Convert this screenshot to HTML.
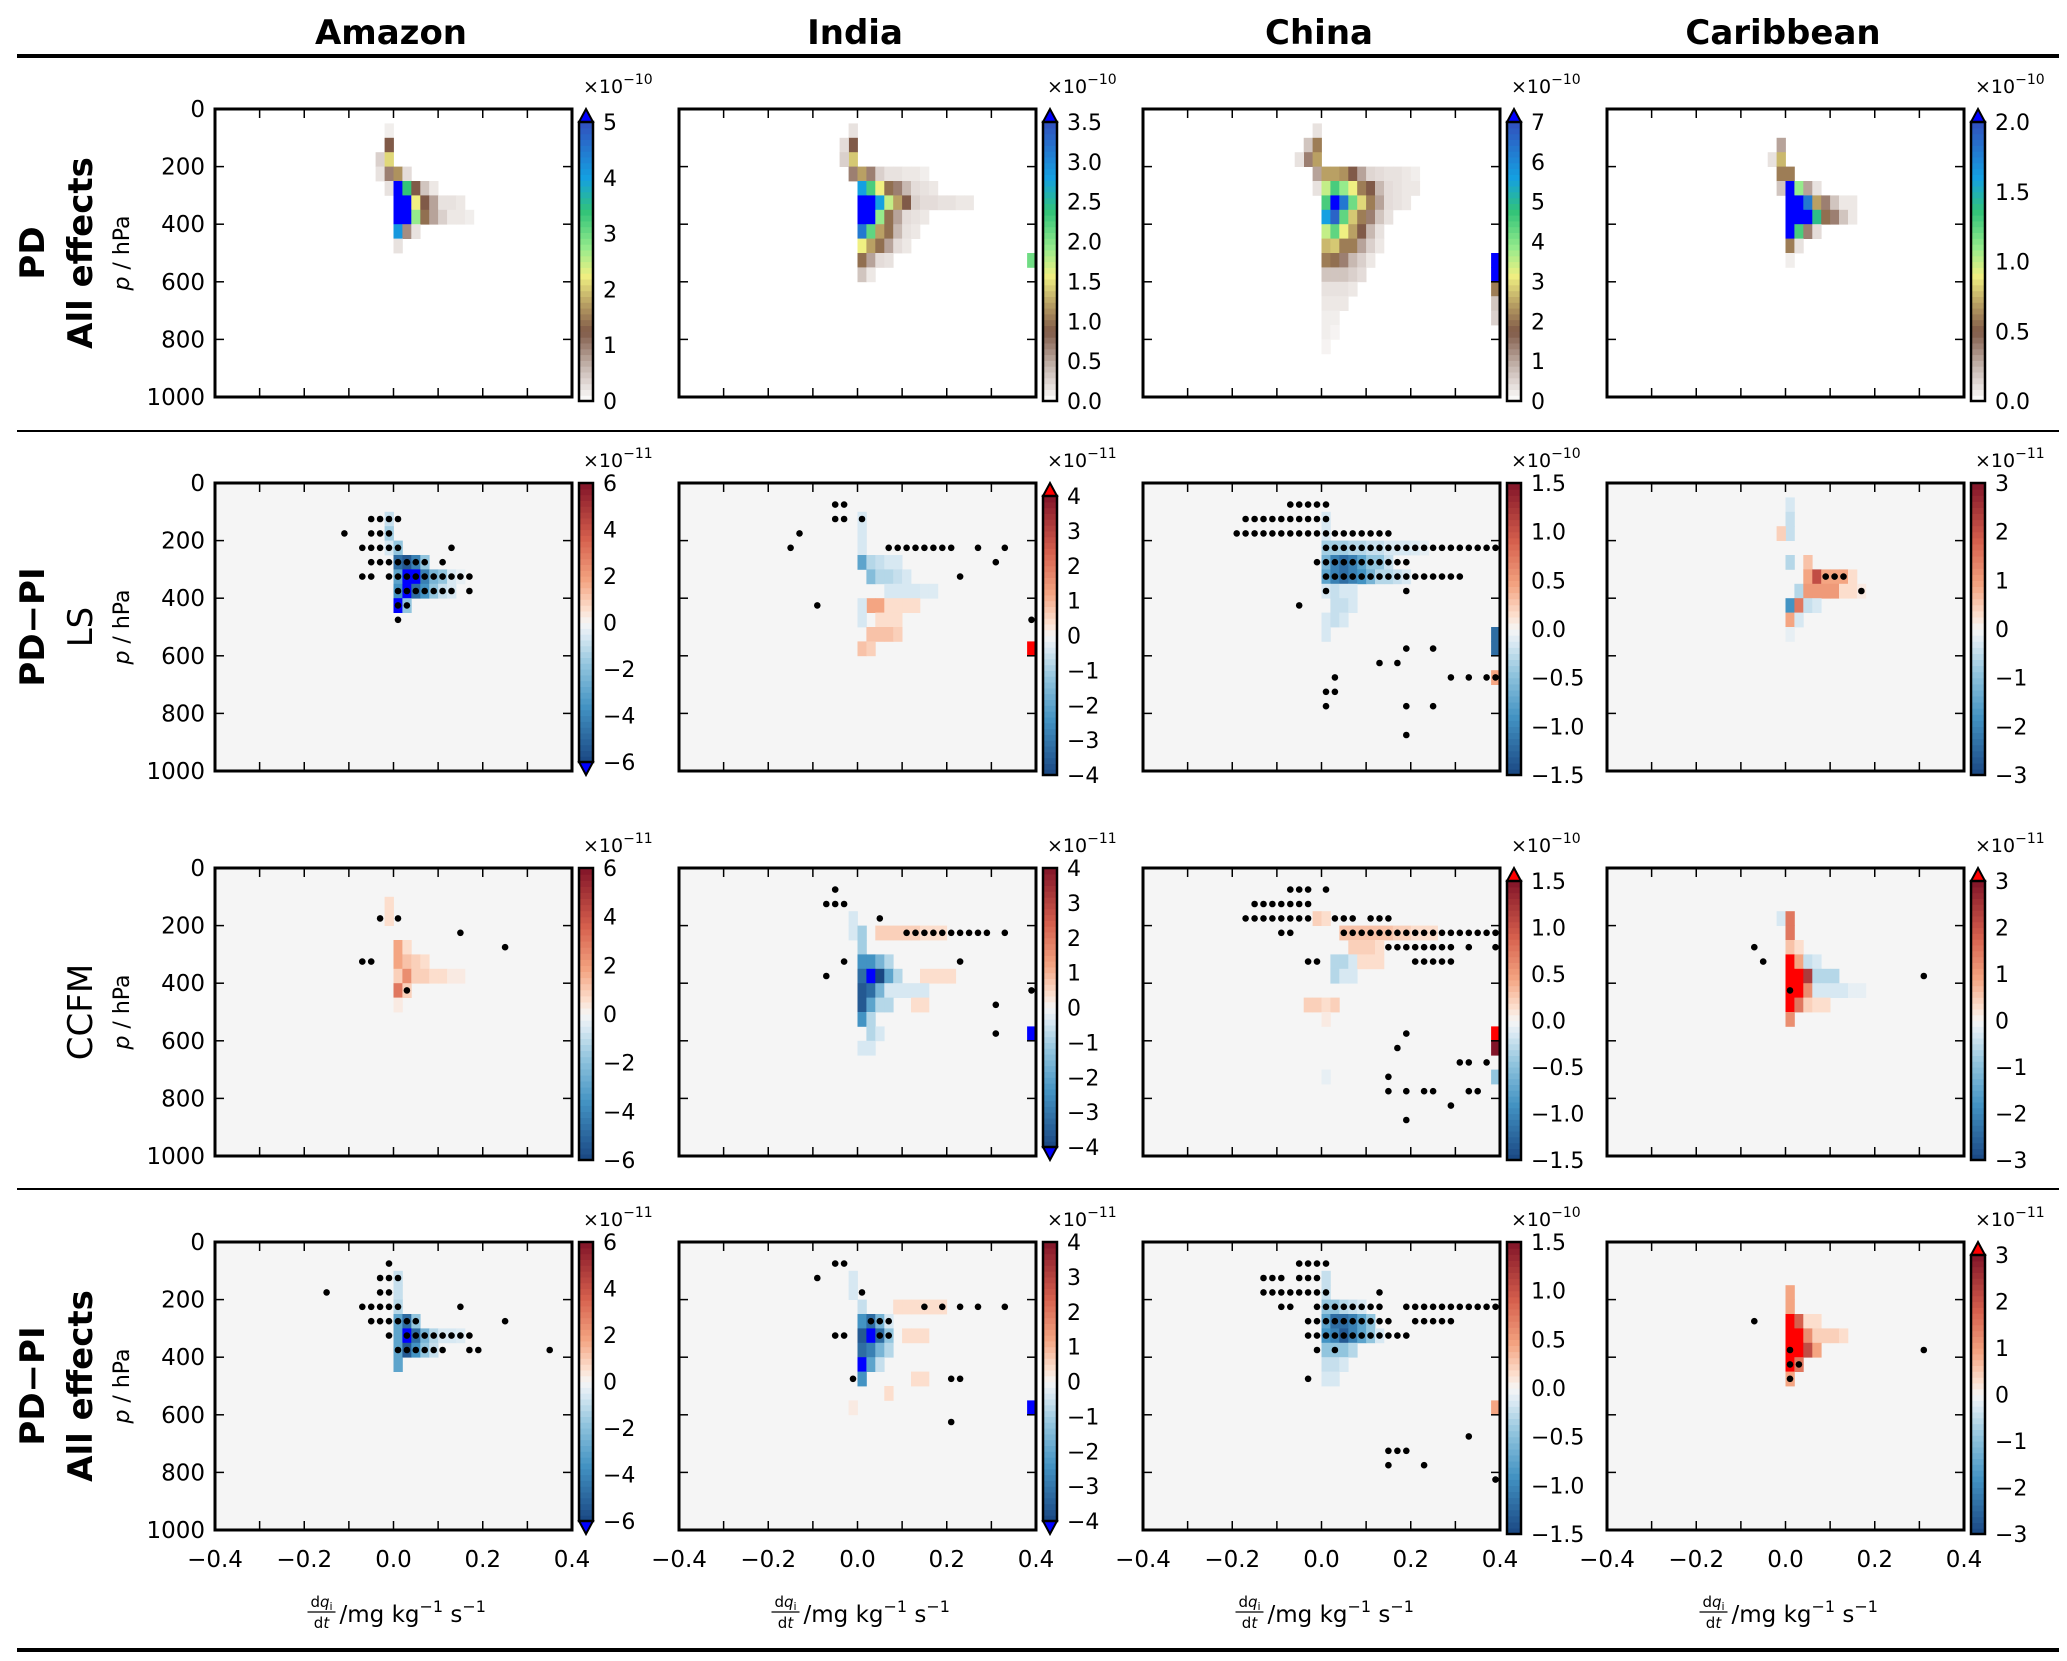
<!DOCTYPE html>
<html><head><meta charset="utf-8">
<style>
html,body{margin:0;padding:0;background:#fff;}
svg{display:block;font-family:"DejaVu Sans","Liberation Sans",sans-serif;}
</style></head>
<body>
<svg id="fig" width="2067" height="1661" viewBox="0 0 2067 1661" xmlns="http://www.w3.org/2000/svg">
<rect x="0" y="0" width="2067" height="1661" fill="#fff"/>
<g id="frame">
<text x="391" y="44" font-size="34" font-weight="bold" text-anchor="middle">Amazon</text>
<text x="855" y="44" font-size="34" font-weight="bold" text-anchor="middle">India</text>
<text x="1319" y="44" font-size="34" font-weight="bold" text-anchor="middle">China</text>
<text x="1783" y="44" font-size="34" font-weight="bold" text-anchor="middle">Caribbean</text>
<rect x="17" y="54" width="2042" height="4" fill="#000"/>
<rect x="17" y="430" width="2042" height="2" fill="#000"/>
<rect x="17" y="1188" width="2042" height="2" fill="#000"/>
<rect x="17" y="1648" width="2042" height="4" fill="#000"/>
</g>
</svg>
<script>
// ---------- layout ----------
const colLeft = [215, 679, 1143, 1607];
const rowTop = [109, 483, 868, 1242];
const PW = 357, PH = 288;
const xTicks = [-0.4, -0.3, -0.2, -0.1, 0.0, 0.1, 0.2, 0.3, 0.4];
const xTickLabels = ["\u22120.4", "\u22120.2", "0.0", "0.2", "0.4"];
const xTickLabelValues = [-0.4, -0.2, 0.0, 0.2, 0.4];
const yTicks = [0, 200, 400, 600, 800, 1000];
const cellW = 0.02, cellH = 50;

// ---------- colorbar definitions ----------
const cbLabelsPD_Amazon = ["0","1","2","3","4","5"];
const cbLabelsPD_India = ["0.0","0.5","1.0","1.5","2.0","2.5","3.0","3.5"];
const cbLabelsPD_China = ["0","1","2","3","4","5","6","7"];
const cbLabelsPD_Carib = ["0.0","0.5","1.0","1.5","2.0"];
const cbLabelsD_Amazon = ["\u22126","\u22124","\u22122","0","2","4","6"];
const cbLabelsD_India = ["\u22124","\u22123","\u22122","\u22121","0","1","2","3","4"];
const cbLabelsD_China = ["\u22121.5","\u22121.0","\u22120.5","0.0","0.5","1.0","1.5"];
const cbLabelsD_Carib = ["\u22123","\u22122","\u22121","0","1","2","3"];

// ---------- data: cells [x, p, value as fraction of colorbar max]; dots [p, [x...]] ----------
const amazonPdCells = [[-0.02,50,0.03],[-0.02,100,0.25],[-0.04,150,0.08],[-0.02,150,0.42],[-0.04,200,0.05],[-0.02,200,0.2],[0,200,0.33],[0.02,200,0.06],
[-0.02,250,0.05],[0,250,1.2],[0.02,250,0.68],[0.04,250,0.25],[0.06,250,0.1],[0.08,250,0.04],
[0,300,1.2],[0.02,300,1.2],[0.04,300,0.45],[0.06,300,0.25],[0.08,300,0.15],[0.1,300,0.05],[0.12,300,0.05],[0.14,300,0.04],
[0,350,1.2],[0.02,350,1.2],[0.04,350,0.55],[0.06,350,0.28],[0.08,350,0.15],[0.1,350,0.08],[0.12,350,0.04],[0.14,350,0.04],[0.16,350,0.03],
[0,400,0.82],[0.02,400,0.18],[0.04,400,0.05],[0,450,0.05]];
const indiaPdCells = [[-0.02,50,0.05],[-0.02,100,0.25],[-0.04,100,0.06],[-0.02,150,0.4],[-0.04,150,0.08],[-0.02,200,0.2],[0,200,0.35],[0.02,200,0.2],[0.04,200,0.08],[0.06,200,0.05],[0.08,200,0.05],[0.1,200,0.04],[0.12,200,0.04],[0.14,200,0.03],
[0,250,0.8],[0.02,250,0.65],[0.04,250,0.45],[0.06,250,0.28],[0.08,250,0.2],[0.1,250,0.12],[0.12,250,0.06],[0.14,250,0.05],[0.16,250,0.04],
[0,300,1.2],[0.02,300,1.2],[0.04,300,0.8],[0.06,300,0.5],[0.08,300,0.35],[0.1,300,0.25],[0.12,300,0.08],[0.14,300,0.06],[0.16,300,0.06],[0.18,300,0.05],[0.2,300,0.05],[0.22,300,0.04],[0.24,300,0.04],
[0,350,1.2],[0.02,350,1.2],[0.04,350,0.55],[0.06,350,0.28],[0.08,350,0.15],[0.1,350,0.06],[0.12,350,0.05],[0.14,350,0.04],
[0,400,0.9],[0.02,400,0.62],[0.04,400,0.35],[0.06,400,0.28],[0.08,400,0.12],[0.1,400,0.05],[0.12,400,0.04],
[0,450,0.45],[0.02,450,0.35],[0.04,450,0.28],[0.06,450,0.15],[0.08,450,0.06],[0.1,450,0.04],
[0,500,0.28],[0.02,500,0.15],[0.04,500,0.06],[0.06,500,0.05],[0,550,0.1],[0.02,550,0.04],[0.38,500,0.6]];
const chinaPdCells = [[-0.02,50,0.05],[-0.04,100,0.1],[-0.02,100,0.3],[-0.04,150,0.2],[-0.02,150,0.35],[-0.06,150,0.05],
[-0.02,200,0.15],[0,200,0.35],[0.02,200,0.35],[0.04,200,0.33],[0.06,200,0.25],[0.08,200,0.15],[0.1,200,0.07],[0.12,200,0.06],[0.14,200,0.05],[0.16,200,0.05],[0.18,200,0.04],[0.2,200,0.03],
[-0.02,250,0.05],[0,250,0.5],[0.02,250,0.65],[0.04,250,0.55],[0.06,250,0.45],[0.08,250,0.3],[0.1,250,0.25],[0.12,250,0.12],[0.14,250,0.06],[0.16,250,0.05],[0.18,250,0.04],[0.2,250,0.04],
[0,300,0.65],[0.02,300,1.2],[0.04,300,0.9],[0.06,300,0.6],[0.08,300,0.42],[0.1,300,0.3],[0.12,300,0.15],[0.14,300,0.06],[0.16,300,0.05],[0.18,300,0.04],
[0,350,0.8],[0.02,350,0.95],[0.04,350,0.62],[0.06,350,0.4],[0.08,350,0.3],[0.1,350,0.2],[0.12,350,0.1],[0.14,350,0.05],
[0,400,0.5],[0.02,400,0.62],[0.04,400,0.45],[0.06,400,0.35],[0.08,400,0.25],[0.1,400,0.12],[0.12,400,0.05],
[0,450,0.38],[0.02,450,0.4],[0.04,450,0.3],[0.06,450,0.3],[0.08,450,0.15],[0.1,450,0.08],[0.12,450,0.04],
[0,500,0.3],[0.02,500,0.28],[0.04,500,0.2],[0.06,500,0.12],[0.08,500,0.08],[0.1,500,0.04],
[0,550,0.1],[0.02,550,0.1],[0.04,550,0.1],[0.06,550,0.08],[0.08,550,0.06],[0,600,0.05],[0.02,600,0.05],[0.04,600,0.05],[0.06,600,0.04],
[0,650,0.04],[0.02,650,0.04],[0.04,650,0.04],[0,700,0.03],[0.02,700,0.03],[0,750,0.03],[0.02,750,0.02],[0,800,0.02],
[0.38,500,1.2],[0.38,550,1.2],[0.38,600,0.3],[0.38,650,0.1],[0.38,700,0.08]];
const caribPdCells = [[-0.02,100,0.15],[-0.04,150,0.05],[-0.02,150,0.38],[-0.02,200,0.3],[0,200,0.3],
[-0.02,250,0.1],[0,250,1.2],[0.02,250,0.55],[0.04,250,0.15],[0.06,250,0.05],
[0,300,1.2],[0.02,300,1.2],[0.04,300,0.9],[0.06,300,0.35],[0.08,300,0.2],[0.1,300,0.1],[0.12,300,0.04],[0.14,300,0.04],
[0,350,1.2],[0.02,350,1.2],[0.04,350,1.2],[0.06,350,0.7],[0.08,350,0.28],[0.1,350,0.2],[0.12,350,0.1],[0.14,350,0.04],
[0,400,1.2],[0.02,400,0.65],[0.04,400,0.2],[0.06,400,0.06],[0,450,0.3],[0.02,450,0.05],[0,500,0.03]];

const amazonLsCells = [[-0.02,100,-0.15],[-0.02,150,-0.25],[-0.02,200,-0.1],[0,200,-0.3],[0,250,-0.8],[0.02,250,-0.9],[0.04,250,-0.7],[0.06,250,-0.3],
[0,300,-0.5],[0.02,300,-1.3],[0.04,300,-1.3],[0.06,300,-0.7],[0.08,300,-0.4],[0.1,300,-0.3],[0.12,300,-0.1],[0.14,300,-0.05],
[0,350,-0.6],[0.02,350,-1.3],[0.04,350,-0.8],[0.06,350,-0.6],[0.08,350,-0.3],[0.1,350,-0.15],[0.12,350,-0.1],[0,400,-1.3],[0.02,400,-0.3]];
const amazonLsDots = [[125,[-0.05,-0.03,-0.01,0.01]],[175,[-0.11,-0.05,-0.03,-0.01]],[225,[-0.07,-0.05,-0.03,-0.01,0.01,0.13]],
[275,[-0.05,-0.03,-0.01,0.01,0.03,0.05,0.07,0.11]],[325,[-0.07,-0.05,-0.01,0.01,0.03,0.05,0.07,0.09,0.11,0.13,0.15,0.17]],
[375,[0.01,0.03,0.05,0.07,0.09,0.11,0.13,0.17]],[425,[0.01,0.03]],[475,[0.01]]];
const indiaLsCells = [[0,100,-0.1],[0,150,-0.1],[0,200,-0.1],[0,250,-0.5],[0.02,250,-0.2],[0.04,250,-0.15],[0.06,250,-0.1],[0.08,250,-0.1],
[0.02,300,-0.35],[0.04,300,-0.2],[0.06,300,-0.2],[0.08,300,-0.15],[0.1,300,-0.1],[0.06,350,-0.1],[0.08,350,-0.1],[0.1,350,-0.1],[0.12,350,-0.1],[0.14,350,-0.08],[0.16,350,-0.08],
[0.02,400,0.3],[0.04,400,0.3],[0.06,400,0.1],[0.08,400,0.1],[0.1,400,0.1],[0.12,400,0.1],[0,400,-0.1],[0,450,-0.1],
[0.04,450,0.1],[0.06,450,0.1],[0.08,450,0.1],[0.02,500,0.2],[0.04,500,0.2],[0.06,500,0.2],[0.08,500,0.15],[0,550,0.2],[0.02,550,0.15],[0.38,550,1.3]];
const indiaLsDots = [[75,[-0.05,-0.03]],[125,[-0.05,-0.03,0.01]],[175,[-0.13]],[225,[-0.15,0.07,0.09,0.11,0.13,0.15,0.17,0.19,0.21,0.27,0.33]],[275,[0.31]],[325,[0.23]],[425,[-0.09]],[475,[0.39]]];
const chinaLsCells = [[0,100,-0.1],[0,150,-0.1],[0,200,-0.25],[0.02,200,-0.25],[0.04,200,-0.25],[0.06,200,-0.2],[0.08,200,-0.2],[0.1,200,-0.15],[0.12,200,-0.15],[0.14,200,-0.1],[0.16,200,-0.1],[0.18,200,-0.1],[0.2,200,-0.08],[0.22,200,-0.05],
[0,250,-0.4],[0.02,250,-0.7],[0.04,250,-0.8],[0.06,250,-0.7],[0.08,250,-0.5],[0.1,250,-0.3],[0.12,250,-0.3],[0.14,250,-0.15],
[0,300,-0.5],[0.02,300,-0.7],[0.04,300,-0.8],[0.06,300,-0.7],[0.08,300,-0.6],[0.1,300,-0.4],[0.12,300,-0.2],[0.14,300,-0.2],[0.16,300,-0.15],[0.18,300,-0.1],
[0,350,-0.1],[0.02,350,-0.15],[0.04,350,-0.1],[0.06,350,-0.1],[0.02,400,-0.15],[0.04,400,-0.15],[0.06,400,-0.1],[0,450,-0.1],[0.02,450,-0.15],[0.04,450,-0.1],[0,500,-0.1],
[0.38,500,-0.8],[0.38,550,-0.8],[0.38,650,0.3]];
const chinaLsDots = [[75,[-0.07,-0.05,-0.03,-0.01,0.01]],[125,[-0.17,-0.15,-0.13,-0.11,-0.09,-0.07,-0.05,-0.03,-0.01,0.01]],
[175,[-0.19,-0.17,-0.15,-0.13,-0.11,-0.09,-0.07,-0.05,-0.03,-0.01,0.01,0.03,0.05,0.07,0.09,0.11,0.13,0.15]],
[225,[0.01,0.03,0.05,0.07,0.09,0.11,0.13,0.15,0.17,0.19,0.21,0.23,0.25,0.27,0.29,0.31,0.33,0.35,0.37,0.39]],
[275,[-0.01,0.01,0.03,0.05,0.07,0.09,0.11,0.13,0.15,0.17,0.19]],
[325,[0.01,0.03,0.05,0.07,0.09,0.11,0.13,0.15,0.17,0.19,0.21,0.23,0.25,0.27,0.29,0.31]],
[375,[0.01,0.19]],[425,[-0.05]],[575,[0.19,0.25]],[625,[0.13,0.17]],[675,[0.03,0.29,0.33,0.37,0.39]],[725,[0.01,0.03]],[775,[0.01,0.19,0.25]],[875,[0.19]]];
const caribLsCells = [[0,50,-0.1],[0,100,-0.15],[0,150,-0.15],[-0.02,150,0.15],[0,250,-0.2],[0.04,250,0.2],[0.04,300,0.3],[0.06,300,0.7],[0.08,300,0.3],[0.1,300,0.3],[0.12,300,0.3],[0.14,300,0.1],
[0.02,350,-0.2],[0.04,350,0.35],[0.06,350,0.35],[0.08,350,0.35],[0.1,350,0.35],[0.12,350,0.1],[0.14,350,0.1],[0.16,350,0.05],
[0,400,-0.6],[0.02,400,0.5],[0.04,400,-0.15],[0.06,400,-0.1],[0,450,0.3],[0.02,450,-0.1],[0,500,-0.05]];
const caribLsDots = [[325,[0.09,0.11,0.13]],[375,[0.17]]];

const amazonCcCells = [[-0.02,100,0.1],[-0.02,150,0.1],[0,250,0.3],[0.02,250,0.1],[0,300,0.3],[0.02,300,0.2],[0.04,300,0.15],[0.06,300,0.1],
[0,350,0.15],[0.02,350,0.4],[0.04,350,0.15],[0.06,350,0.15],[0.08,350,0.1],[0.1,350,0.1],[0.12,350,0.05],[0.14,350,0.05],[0,400,0.5],[0.02,400,0.15],[0,450,0.05]];
const amazonCcDots = [[175,[-0.03,0.01]],[225,[0.15]],[275,[0.25]],[325,[-0.07,-0.05]],[425,[0.03]]];
const indiaCcCells = [[-0.02,150,-0.1],[-0.02,200,-0.1],[0,200,-0.25],[0,250,-0.25],[0.04,200,0.15],[0.06,200,0.15],[0.08,200,0.15],[0.1,200,0.15],[0.12,200,0.15],[0.14,200,0.1],[0.16,200,0.1],[0.18,200,0.1],
[0,300,-0.6],[0.02,300,-0.6],[0.04,300,-0.4],[0.06,300,-0.2],
[0,350,-0.8],[0.02,350,-1.3],[0.04,350,-1.0],[0.06,350,-0.5],[0.08,350,-0.2],[0.14,350,0.1],[0.16,350,0.1],[0.18,350,0.1],[0.2,350,0.1],
[0,400,-0.9],[0.02,400,-0.8],[0.04,400,-0.4],[0.06,400,-0.1],[0.08,400,-0.1],[0.1,400,-0.1],[0.12,400,-0.1],[0.14,400,-0.1],
[0,450,-0.9],[0.02,450,-0.5],[0.04,450,-0.2],[0.06,450,-0.2],[0.12,450,0.1],[0.14,450,0.1],[0,500,-0.6],[0.02,500,-0.2],[0.02,550,-0.2],[0.04,550,-0.1],[0,600,-0.1],[0.02,600,-0.1],[0.38,550,-1.3]];
const indiaCcDots = [[75,[-0.05]],[125,[-0.07,-0.05,-0.03]],[175,[0.05]],[225,[0.11,0.13,0.15,0.17,0.19,0.21,0.23,0.25,0.27,0.29,0.33]],[325,[-0.03,0.23]],[375,[-0.07]],[425,[0.39]],[475,[0.31]],[575,[0.31]]];
const chinaCcCells = [[-0.02,150,0.15],[0,150,0.1],[0.04,200,0.2],[0.06,200,0.2],[0.08,200,0.2],[0.1,200,0.2],[0.12,200,0.2],[0.14,200,0.2],[0.16,200,0.15],[0.18,200,0.15],[0.2,200,0.1],[0.22,200,0.1],[0.24,200,0.1],
[0.06,250,0.15],[0.08,250,0.15],[0.1,250,0.15],[0.12,250,0.1],[0.02,300,-0.2],[0.04,300,-0.2],[0.06,300,-0.1],[0.08,300,0.1],[0.1,300,0.1],[0.12,300,0.1],[0.02,350,-0.2],[0.04,350,-0.1],[0.06,350,-0.1],
[-0.04,450,0.15],[-0.02,450,0.15],[0,450,0.1],[0.02,450,0.15],[0,500,0.05],[0,700,-0.05],[0.38,550,1.3],[0.38,600,1.0],[0.38,700,-0.3]];
const chinaCcDots = [[75,[-0.07,-0.05,-0.03,0.01]],[125,[-0.15,-0.13,-0.11,-0.09,-0.07,-0.05,-0.03]],
[175,[-0.17,-0.15,-0.13,-0.11,-0.09,-0.07,-0.05,-0.03,0.03,0.05,0.07,0.11,0.13,0.15]],
[225,[-0.09,-0.07,0.05,0.07,0.09,0.11,0.13,0.15,0.17,0.19,0.21,0.23,0.25,0.27,0.29,0.31,0.33,0.35,0.37,0.39]],
[275,[0.15,0.17,0.19,0.21,0.23,0.25,0.27,0.29,0.33,0.39]],[325,[-0.03,-0.01,0.21,0.23,0.25,0.27,0.29]],
[575,[0.19]],[625,[0.17]],[675,[0.31,0.33,0.37]],[725,[0.15]],[775,[0.15,0.19,0.23,0.25,0.33,0.35]],[825,[0.29]],[875,[0.19]]];
const caribCcCells = [[-0.02,150,-0.1],[0,150,0.5],[0,200,0.5],[0,250,0.2],[0.02,250,0.1],[0,300,1.3],[0.02,300,0.3],[0.04,300,-0.15],[0.06,300,-0.1],
[0,350,1.3],[0.02,350,1.3],[0.04,350,0.8],[0.06,350,-0.2],[0.08,350,-0.2],[0.1,350,-0.2],
[0,400,1.3],[0.02,400,1.3],[0.04,400,0.4],[0.06,400,-0.1],[0.08,400,-0.1],[0.1,400,-0.1],[0.12,400,-0.1],[0.14,400,-0.05],[0.16,400,-0.05],
[0,450,1.3],[0.02,450,0.5],[0.04,450,0.15],[0.06,450,0.1],[0.08,450,0.1],[0,500,0.4]];
const caribCcDots = [[275,[-0.07]],[325,[-0.05]],[375,[0.31]],[425,[0.01]]];

const amazonAeCells = [[0,100,-0.15],[0,150,-0.15],[0,200,-0.2],[0,250,-0.5],[0.02,250,-0.8],[0.04,250,-0.3],
[0,300,-0.5],[0.02,300,-1.3],[0.04,300,-0.8],[0.06,300,-0.4],[0.08,300,-0.2],[0.1,300,-0.1],[0.12,300,-0.1],[0.14,300,-0.08],
[0,350,-0.5],[0.02,350,-0.9],[0.04,350,-0.6],[0.06,350,-0.3],[0.08,350,-0.15],[0,400,-0.5]];
const amazonAeDots = [[75,[-0.01]],[125,[-0.03,-0.01,0.01]],[175,[-0.15,-0.03,-0.01]],[225,[-0.07,-0.05,-0.03,-0.01,0.01,0.15]],
[275,[-0.05,-0.03,-0.01,0.01,0.03,0.05,0.25]],[325,[-0.01,0.03,0.05,0.07,0.09,0.11,0.13,0.15,0.17]],[375,[0.01,0.03,0.05,0.07,0.09,0.11,0.17,0.19,0.35]]];
const indiaAeCells = [[-0.02,100,-0.1],[-0.02,150,-0.1],[0,200,-0.15],[0.08,200,0.1],[0.1,200,0.1],[0.12,200,0.1],[0.14,200,0.1],[0.16,200,0.1],[0.18,200,0.1],
[0,250,-0.6],[0.02,250,-0.8],[0.04,250,-0.4],[0.06,250,-0.1],[0,300,-0.9],[0.02,300,-1.3],[0.04,300,-0.8],[0.06,300,-0.3],[0.1,300,0.1],[0.12,300,0.1],[0.14,300,0.1],
[0,350,-0.8],[0.02,350,-0.7],[0.04,350,-0.4],[0.06,350,-0.2],[0,400,-1.3],[0.02,400,-0.5],[0.04,400,-0.15],[0,450,-0.6],[0.12,450,0.1],[0.14,450,0.1],[0.06,500,0.1],[-0.02,550,0.05],[0.38,550,-1.3]];
const indiaAeDots = [[75,[-0.05,-0.03]],[125,[-0.09]],[175,[0.01]],[225,[0.15,0.19,0.23,0.27,0.33]],[275,[0.03,0.05,0.07]],[325,[-0.05,-0.03,0.05,0.07]],[475,[-0.01,0.21,0.23]],[625,[0.21]]];
const chinaAeCells = [[0,100,-0.15],[0,150,-0.15],[0,200,-0.3],[0.02,200,-0.3],[0.04,200,-0.2],[0.06,200,-0.15],[0.08,200,-0.1],
[0,250,-0.5],[0.02,250,-0.8],[0.04,250,-0.8],[0.06,250,-0.7],[0.08,250,-0.5],[0.1,250,-0.3],
[0,300,-0.6],[0.02,300,-0.7],[0.04,300,-0.9],[0.06,300,-0.7],[0.08,300,-0.5],[0.1,300,-0.3],[0.12,300,-0.1],
[0,350,-0.3],[0.02,350,-0.3],[0.04,350,-0.3],[0.06,350,-0.2],[0,400,-0.15],[0.02,400,-0.15],[0.04,400,-0.1],[0,450,-0.1],[0.02,450,-0.1],[0.38,550,0.3]];
const chinaAeDots = [[75,[-0.05,-0.03,-0.01,0.01]],[125,[-0.13,-0.11,-0.09,-0.05,-0.03,-0.01]],[175,[-0.13,-0.11,-0.09,-0.07,-0.05,-0.03,-0.01,0.01,0.13]],
[225,[-0.09,-0.07,-0.01,0.01,0.03,0.05,0.07,0.09,0.11,0.13,0.19,0.21,0.23,0.25,0.27,0.29,0.31,0.33,0.35,0.37,0.39]],
[275,[-0.03,-0.01,0.01,0.03,0.05,0.07,0.09,0.11,0.13,0.15,0.21,0.23,0.25,0.27,0.29]],
[325,[-0.03,-0.01,0.01,0.03,0.05,0.07,0.09,0.11,0.13,0.15,0.17,0.19]],[375,[-0.01,0.03]],[475,[-0.03]],[675,[0.33]],[725,[0.15,0.17,0.19]],[775,[0.15,0.23]],[825,[0.39]]];
const caribAeCells = [[0,150,0.3],[0,200,0.3],[0,250,1.3],[0.02,250,0.6],[0.04,250,0.1],[0.06,250,0.1],[0,300,1.3],[0.02,300,1.3],[0.04,300,0.4],[0.06,300,0.15],[0.08,300,0.15],[0.1,300,0.15],[0.12,300,0.1],
[0,350,1.3],[0.02,350,1.3],[0.04,350,0.7],[0.06,350,0.3],[0,400,1.3],[0.02,400,0.5],[0,450,0.3]];
const caribAeDots = [[275,[-0.07]],[375,[0.01,0.31]],[425,[0.01,0.03]],[475,[0.01]]];

// ---------- panels ----------
const panels = [
 {r:0,c:0,name:"amazon-pd",type:"pd",cells:amazonPdCells,dots:[],labels:cbLabelsPD_Amazon,exp:"\u221210",up:true,down:false},
 {r:0,c:1,name:"india-pd",type:"pd",cells:indiaPdCells,dots:[],labels:cbLabelsPD_India,exp:"\u221210",up:true,down:false},
 {r:0,c:2,name:"china-pd",type:"pd",cells:chinaPdCells,dots:[],labels:cbLabelsPD_China,exp:"\u221210",up:true,down:false},
 {r:0,c:3,name:"caribbean-pd",type:"pd",cells:caribPdCells,dots:[],labels:cbLabelsPD_Carib,exp:"\u221210",up:true,down:false},
 {r:1,c:0,name:"amazon-ls",type:"d",cells:amazonLsCells,dots:amazonLsDots,labels:cbLabelsD_Amazon,exp:"\u221211",up:false,down:true},
 {r:1,c:1,name:"india-ls",type:"d",cells:indiaLsCells,dots:indiaLsDots,labels:cbLabelsD_India,exp:"\u221211",up:true,down:false},
 {r:1,c:2,name:"china-ls",type:"d",cells:chinaLsCells,dots:chinaLsDots,labels:cbLabelsD_China,exp:"\u221210",up:false,down:false},
 {r:1,c:3,name:"caribbean-ls",type:"d",cells:caribLsCells,dots:caribLsDots,labels:cbLabelsD_Carib,exp:"\u221211",up:false,down:false},
 {r:2,c:0,name:"amazon-ccfm",type:"d",cells:amazonCcCells,dots:amazonCcDots,labels:cbLabelsD_Amazon,exp:"\u221211",up:false,down:false},
 {r:2,c:1,name:"india-ccfm",type:"d",cells:indiaCcCells,dots:indiaCcDots,labels:cbLabelsD_India,exp:"\u221211",up:false,down:true},
 {r:2,c:2,name:"china-ccfm",type:"d",cells:chinaCcCells,dots:chinaCcDots,labels:cbLabelsD_China,exp:"\u221210",up:true,down:false},
 {r:2,c:3,name:"caribbean-ccfm",type:"d",cells:caribCcCells,dots:caribCcDots,labels:cbLabelsD_Carib,exp:"\u221211",up:true,down:false},
 {r:3,c:0,name:"amazon-all",type:"d",cells:amazonAeCells,dots:amazonAeDots,labels:cbLabelsD_Amazon,exp:"\u221211",up:false,down:true},
 {r:3,c:1,name:"india-all",type:"d",cells:indiaAeCells,dots:indiaAeDots,labels:cbLabelsD_India,exp:"\u221211",up:false,down:true},
 {r:3,c:2,name:"china-all",type:"d",cells:chinaAeCells,dots:chinaAeDots,labels:cbLabelsD_China,exp:"\u221210",up:false,down:false},
 {r:3,c:3,name:"caribbean-all",type:"d",cells:caribAeCells,dots:caribAeDots,labels:cbLabelsD_Carib,exp:"\u221211",up:true,down:false}
];

// ---------- colormaps ----------
const pdStops = [[0,[255,255,255]],[0.12,[200,185,178]],[0.25,[128,90,72]],[0.35,[185,160,100]],[0.45,[240,240,130]],[0.55,[150,235,140]],[0.68,[50,195,120]],[0.8,[20,160,225]],[1,[50,80,190]]];
const dStops = [[-1,[25,70,130]],[-0.6,[67,147,195]],[-0.3,[146,197,222]],[-0.1,[215,232,242]],[0,[246,246,246]],[0.1,[252,222,205]],[0.3,[244,165,130]],[0.6,[214,96,77]],[1,[130,20,40]]];
function interp(stops, v){
  if(v<=stops[0][0]) return stops[0][1];
  for(let i=1;i<stops.length;i++){
    if(v<=stops[i][0]){const a=stops[i-1],b=stops[i];const t=(v-a[0])/(b[0]-a[0]);
      return a[1].map((x,k)=>Math.round(x+(b[1][k]-x)*t));}
  }
  return stops[stops.length-1][1];
}
function color(type,v){
  if(type==="pd"){ if(v>1) return "#0000ff"; const c=interp(pdStops,v); return `rgb(${c})`; }
  if(v>1) return "#ff0000"; if(v<-1) return "#0000ff";
  const c=interp(dStops,v); return `rgb(${c})`;
}

const NS="http://www.w3.org/2000/svg";
const svg=document.getElementById("fig");
function mk(tag,attrs,parent){const e=document.createElementNS(NS,tag);for(const k in attrs)e.setAttribute(k,attrs[k]);(parent||svg).appendChild(e);return e;}

panels.forEach(P=>{
  const L=colLeft[P.c], T=rowTop[P.r];
  const X=x=>L+(x+0.4)/0.8*PW;
  const Y=p=>T+p/1000*PH;
  const g=mk("g",{});
  
  
  const bg=mk("rect",{x:L,y:T,width:PW,height:PH,fill:P.type==="pd"?"#ffffff":"#f5f5f5"},g);
  
  
  P.cells.forEach(c=>{
    const r=mk("rect",{x:X(c[0]).toFixed(1),y:Y(c[1]).toFixed(1),width:(X(c[0]+cellW)-X(c[0])+0.4).toFixed(1),height:(Y(c[1]+cellH)-Y(c[1])+0.4).toFixed(1),fill:color(P.type,c[2])},g);
    
    
  });
  P.dots.forEach(row=>{
    row[1].forEach(x=>{
      const d=mk("circle",{cx:X(x).toFixed(1),cy:Y(row[0]).toFixed(1),r:3.3,fill:"#000"},g);
      
      
    });
  });
  xTicks.forEach(t=>{
    mk("line",{x1:X(t),x2:X(t),y1:T,y2:T+9,stroke:"#000","stroke-width":1.5},g);
    mk("line",{x1:X(t),x2:X(t),y1:T+PH,y2:T+PH-9,stroke:"#000","stroke-width":1.5},g);
  });
  yTicks.forEach(t=>{
    mk("line",{x1:L,x2:L+9,y1:Y(t),y2:Y(t),stroke:"#000","stroke-width":1.5},g);
    mk("line",{x1:L+PW,x2:L+PW-9,y1:Y(t),y2:Y(t),stroke:"#000","stroke-width":1.5},g);
    if(P.c===0){
      const tl=mk("text",{x:L-10,y:Y(t)+8,"font-size":23,"text-anchor":"end"},g);
      tl.textContent=String(t);
      
      
    }
  });
  const fr=mk("rect",{x:L,y:T,width:PW,height:PH,fill:"none",stroke:"#000","stroke-width":3},g);
  
  
  if(P.c===0){
    const yl=mk("text",{transform:`translate(${L-86},${T+PH/2}) rotate(-90)`,"font-size":22,"text-anchor":"middle"},g);
    yl.innerHTML='<tspan font-style="italic">p</tspan> / hPa';
    
    
  }
  if(P.r===3){
    xTickLabelValues.forEach((v,i)=>{
      const xl=mk("text",{x:X(v),y:T+PH+37,"font-size":23,"text-anchor":"middle"},g);
      xl.textContent=xTickLabels[i];
      
      
    });
    const cx=L+PW/2-10;
    const xt=mk("g",{},g);
    
    
    const n=mk("text",{x:cx-62,y:1607,"font-size":15,"text-anchor":"middle"},xt); n.innerHTML='d<tspan font-style="italic">q</tspan><tspan font-size="11" dy="3">i</tspan>';
    mk("line",{x1:cx-76,x2:cx-48,y1:1612,y2:1612,stroke:"#000","stroke-width":1.2},xt);
    const dd=mk("text",{x:cx-62,y:1628,"font-size":15,"text-anchor":"middle"},xt); dd.innerHTML='d<tspan font-style="italic">t</tspan>';
    const u=mk("text",{x:cx-44,y:1622,"font-size":23},xt); u.innerHTML='/mg kg<tspan font-size="16" dy="-10">\u22121</tspan><tspan dy="10"> s</tspan><tspan font-size="16" dy="-10">\u22121</tspan>';
  }
  const cbx=L+364, cbw=14, arrow=13;
  const top=T+(P.up?arrow:0), bot=T+PH+4-(P.down?arrow:0);
  const cb=mk("g",{},g);
  
  
  const N=48;
  for(let i=0;i<N;i++){
    const f=(i+0.5)/N; const v=P.type==="pd"?f:(f*2-1);
    const y0=bot-(i+1)*(bot-top)/N;
    mk("rect",{x:cbx,y:y0.toFixed(1),width:cbw,height:((bot-top)/N+0.6).toFixed(1),fill:color(P.type,v)},cb);
  }
  if(P.up){mk("polygon",{points:`${cbx},${top} ${cbx+cbw},${top} ${cbx+cbw/2},${top-arrow}`,fill:P.type==="pd"?"#0000ff":"#ff0000",stroke:"#000","stroke-width":2},cb);}
  if(P.down){mk("polygon",{points:`${cbx},${bot} ${cbx+cbw},${bot} ${cbx+cbw/2},${bot+arrow}`,fill:"#0000ff",stroke:"#000","stroke-width":2},cb);}
  mk("rect",{x:cbx,y:top,width:cbw,height:bot-top,fill:"none",stroke:"#000","stroke-width":2.5},cb);
  const n=P.labels.length;
  P.labels.forEach((lab,i)=>{
    const y=bot-i*(bot-top)/(n-1);
    const t=mk("text",{x:cbx+24,y:y+8,"font-size":22},cb);
    t.textContent=lab;
    
    
  });
  const ex=mk("text",{x:cbx+4,y:T-16,"font-size":19},cb);
  ex.innerHTML='\u00d710<tspan font-size="14" dy="-9">'+P.exp+'</tspan>';
  
  
});

const rowLabels=[
 {y:rowTop[0]+PH/2,a:"PD",b:"All effects",bb:true,name:"row-label-pd-all"},
 {y:rowTop[1]+PH/2,a:"PD\u2212PI",b:"LS",bb:false,name:"row-label-pdpi-ls"},
 {y:rowTop[2]+PH/2,a:"",b:"CCFM",bb:false,name:"row-label-ccfm"},
 {y:rowTop[3]+PH/2,a:"PD\u2212PI",b:"All effects",bb:true,name:"row-label-pdpi-all"}
];
rowLabels.forEach(R=>{
  const g=mk("g",{});
  
  
  if(R.a){const t=mk("text",{transform:`translate(44,${R.y}) rotate(-90)`,"font-size":34,"font-weight":"bold","text-anchor":"middle"},g);t.textContent=R.a;}
  const t2=mk("text",{transform:`translate(92,${R.y}) rotate(-90)`,"font-size":34,"font-weight":R.bb?"bold":"normal","text-anchor":"middle"},g);t2.textContent=R.b;
});
</script>
</body></html>
